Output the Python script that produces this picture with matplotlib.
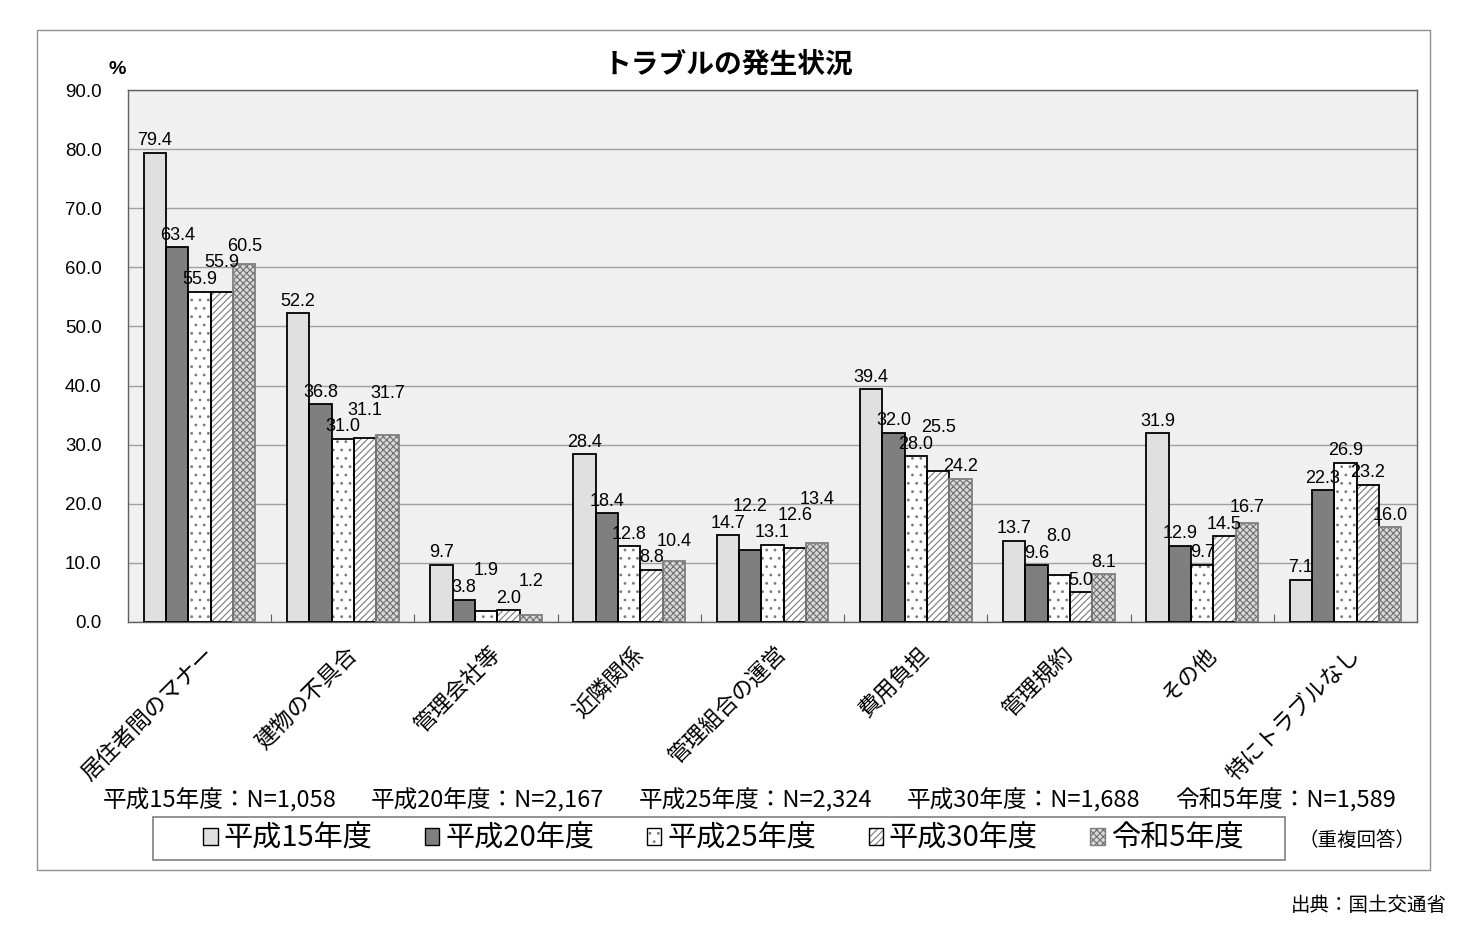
import numpy as np
import matplotlib.pyplot as plt
from matplotlib.patches import Patch, Rectangle

plt.rcParams['font.family'] = ['Noto Sans CJK JP', 'DejaVu Sans']
plt.rcParams['hatch.linewidth'] = 0.8

# データ
categories = ['居住者間のマナー', '建物の不具合', '管理会社等', '近隣関係', '管理組合の運営',
              '費用負担', '管理規約', 'その他', '特にトラブルなし']
series_names = ['平成15年度', '平成20年度', '平成25年度', '平成30年度', '令和5年度']
h15 = [79.4, 52.2, 9.7, 28.4, 14.7, 39.4, 13.7, 31.9, 7.1]
h20 = [63.4, 36.8, 3.8, 18.4, 12.2, 32.0, 9.6, 12.9, 22.3]
h25 = [55.9, 31.0, 1.9, 12.8, 13.1, 28.0, 8.0, 9.7, 26.9]
h30 = [55.9, 31.1, 2.0, 8.8, 12.6, 25.5, 5.0, 14.5, 23.2]
r5 = [60.5, 31.7, 1.2, 10.4, 13.4, 24.2, 8.1, 16.7, 16.0]
n_counts = ['1,058', '2,167', '2,324', '1,688', '1,589']
values = [h15, h20, h25, h30, r5]

# 見た目 (塗り色, ハッチ, ハッチ色, 枠色)
styles = [
    ('#e0e0e0', None, '#e0e0e0', 'black'),
    ('#7f7f7f', None, '#7f7f7f', 'black'),
    ('white', '..', '#7a7a7a', 'black'),
    ('white', '/////', '#7a7a7a', 'black'),
    ('#d8d8d8', 'xxxxx', '#707070', '#808080'),
]
num_font = ['Liberation Sans', 'DejaVu Sans']

fig = plt.figure(figsize=(14.7, 9.3), dpi=100)
ax = fig.add_axes([128 / 1470, 1 - 622 / 930, 1289 / 1470, 532 / 930])
ax.set_facecolor('#f0f0f0')

x = np.arange(len(categories))
w = 0.156
line_h = 2.8  # ラベル1行分(データ単位)

prev_lab = [None] * len(categories)
for k, vals in enumerate(values):
    fc, hatch, hc, ec = styles[k]
    pos = x + (k - 2) * w
    ax.bar(pos, vals, w, color=fc, hatch=hatch, edgecolor=hc, linewidth=0, zorder=2)
    ax.bar(pos, vals, w, fill=False, edgecolor=ec, linewidth=1.3, zorder=3)
    for i, (p, v) in enumerate(zip(pos, vals)):
        ly = v + 0.6
        if prev_lab[i] is not None and abs(ly - prev_lab[i]) < line_h:
            ly = prev_lab[i] + line_h
        prev_lab[i] = ly
        ax.text(p, ly, f'{v:.1f}', ha='center', va='bottom', fontsize=13,
                family=num_font, zorder=4)

ax.set_xlim(-0.5, len(categories) - 0.5)
ax.set_ylim(0, 90)
ax.set_yticks(np.arange(0, 91, 10))
ax.set_yticklabels([f'{t:.1f}' for t in np.arange(0, 91, 10)], fontsize=13.5,
                   family=num_font)
ax.yaxis.grid(True, color='#a0a0a0', linewidth=1)
ax.set_axisbelow(True)
ax.tick_params(axis='y', length=0, pad=19)

ax.set_xticks(x[:-1] + 0.5)
ax.set_xticklabels([])
ax.tick_params(axis='x', direction='in', length=6, color='#606060')
for i, c in enumerate(categories):
    ax.text(x[i] + 0.02, -3.5, c, rotation=45, ha='right', va='top',
            rotation_mode='anchor', fontsize=16)

for s in ax.spines.values():
    s.set_color('#606060')
    s.set_linewidth(1)

fig.text(728 / 1470, 1 - 65 / 930, 'トラブルの発生状況', ha='center', va='center',
         fontsize=20, fontweight='bold')
fig.text(117 / 1470, 1 - 70 / 930, '%', ha='center', va='center', fontsize=14,
         fontweight='bold', family=num_font)

for k, (s, n) in enumerate(zip(series_names, n_counts)):
    fig.text((103 + 268 * k) / 1470, 1 - 800 / 930, f'{s}：N={n}', ha='left',
             va='center', fontsize=17)

handles = []
for fc, hatch, hc, ec in styles:
    handles.append((Patch(facecolor=fc, hatch=hatch, edgecolor=hc, linewidth=0),
                    Patch(fill=False, edgecolor=ec, linewidth=1)))
leg = fig.legend(handles, series_names, ncol=5, loc='center left',
                 bbox_to_anchor=(203 / 1470, 1 - 839 / 930), fontsize=21,
                 handlelength=0.5, handleheight=0.5, handletextpad=0.2,
                 columnspacing=1.8, frameon=False, borderpad=0, borderaxespad=0)
fig.add_artist(Rectangle((153 / 1470, 1 - 860 / 930), 1132 / 1470, 43 / 930,
                         transform=fig.transFigure, facecolor='white',
                         edgecolor='#808080', linewidth=1.2, zorder=0))

fig.text(1357 / 1470, 1 - 840 / 930, '（重複回答）', ha='center', va='center', fontsize=14)
fig.text(1447 / 1470, 1 - 905 / 930, '出典：国土交通省', ha='right', va='center', fontsize=14)

fig.add_artist(Rectangle((37 / 1470, 1 - 870 / 930), 1393 / 1470, 840 / 930,
                         transform=fig.transFigure, fill=False, edgecolor='#909090',
                         linewidth=1))

fig.savefig('out.png', dpi=100)
